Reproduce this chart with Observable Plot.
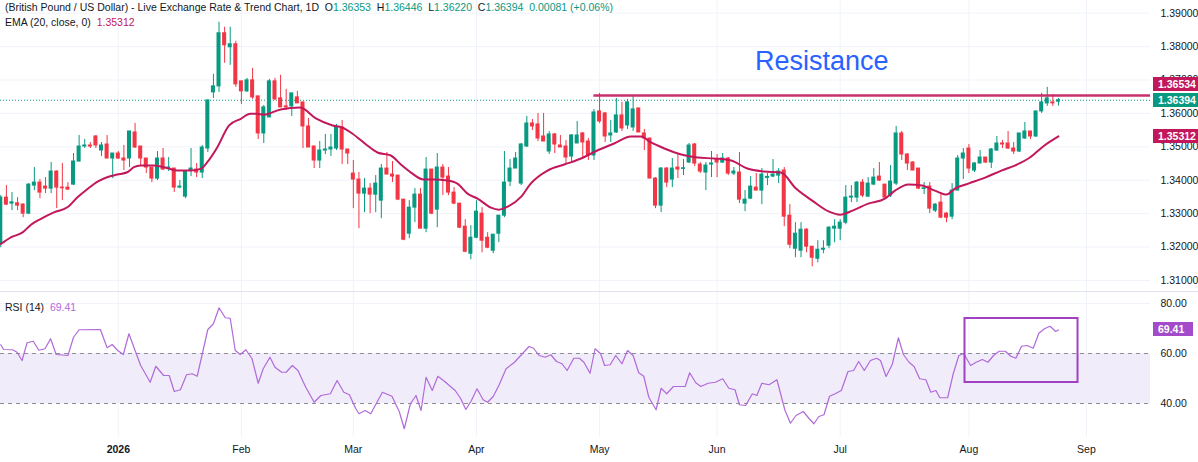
<!DOCTYPE html>
<html><head><meta charset="utf-8">
<script src="https://cdn.jsdelivr.net/npm/d3@7"></script>
<script src="https://cdn.jsdelivr.net/npm/@observablehq/plot@0.6"></script>
<style>
html,body{margin:0;padding:0;background:#fff;}
#wrap{position:relative;width:1198px;height:462px;overflow:hidden;font-family:"Liberation Sans",Arial,sans-serif;color:#131722;}
.pane{position:absolute;left:0;width:1198px;}
.hdr{position:absolute;left:5px;font-size:10.5px;line-height:14px;white-space:pre;color:#131722;}
.g{color:#089981}
.tag{position:absolute;left:1153px;height:14px;color:#fff;font-size:10.5px;line-height:14px;padding-left:5px;box-sizing:border-box;font-weight:bold;}
</style></head><body><div id="wrap"></div>
<script>
// ---- axis ticks ----
const tickIndex = [21, 43, 63, 85, 107, 128, 150, 173, 194];
const tickLabels = ["2026", "Feb", "Mar", "Apr", "May", "Jun", "Jul", "Aug", "Sep"];
const priceTicks = [1.31, 1.32, 1.33, 1.34, 1.35, 1.36, 1.37, 1.38, 1.39];
const rsiTicks = [80, 60, 40];
const rsiBand = [40, 60];

// ---- daily OHLC (GBP/USD), one per trading day ----
const openP = [
1.3210,1.3348,1.3330,1.3331,1.3327,1.3300,1.3384,1.3393,1.3381,1.3375,
1.3426,1.3378,1.3378,1.3387,1.3456,1.3501,1.3504,1.3531,1.3489,1.3507,
1.3465,1.3480,1.3465,1.3465,1.3543,1.3501,1.3465,1.3438,1.3405,1.3465,
1.3435,1.3435,1.3378,1.3351,1.3429,1.3432,1.3423,1.3495,1.3663,1.3681,
1.3840,1.3798,1.3807,1.3696,1.3666,1.3699,1.3651,1.3540,1.3588,1.3696,
1.3645,1.3621,1.3621,1.3648,1.3633,1.3561,1.3501,1.3459,1.3489,1.3492,
1.3495,1.3558,1.3492,1.3420,1.3402,1.3360,1.3375,1.3357,1.3339,1.3435,
1.3417,1.3414,1.3342,1.3240,1.3318,1.3357,1.3255,1.3432,1.3312,1.3438,
1.3411,1.3363,1.3330,1.3261,1.3180,1.3228,1.3300,1.3228,1.3189,1.3240,
1.3294,1.3396,1.3435,1.3390,1.3501,1.3570,1.3567,1.3531,1.3486,1.3537,
1.3504,1.3501,1.3471,1.3510,1.3540,1.3516,1.3474,1.3606,1.3600,1.3534,
1.3543,1.3594,1.3564,1.3558,1.3615,1.3540,1.3525,1.3405,1.3324,1.3435,
1.3402,1.3438,1.3434,1.3453,1.3507,1.3447,1.3423,1.3447,1.3462,1.3453,
1.3465,1.3420,1.3423,1.3330,1.3345,1.3378,1.3369,1.3407,1.3411,1.3414,
1.3429,1.3294,1.3195,1.3189,1.3252,1.3201,1.3165,1.3192,1.3204,1.3255,
1.3255,1.3273,1.3348,1.3348,1.3393,1.3351,1.3387,1.3411,1.3387,1.3354,
1.3390,1.3540,1.3477,1.3453,1.3435,1.3374,1.3381,1.3309,1.3333,1.3300,
1.3291,1.3369,1.3465,1.3495,1.3429,1.3450,1.3468,1.3453,1.3489,1.3510,
1.3510,1.3495,1.3486,1.3525,1.3546,1.3531,1.3606,1.3630,1.3633,1.36353];
const highP = [
1.3354,1.3384,1.3363,1.3348,1.3330,1.3390,1.3438,1.3402,1.3408,1.3453,
1.3428,1.3450,1.3393,1.3480,1.3534,1.3522,1.3513,1.3534,1.3513,1.3534,
1.3480,1.3486,1.3504,1.3546,1.3570,1.3501,1.3465,1.3438,1.3486,1.3495,
1.3468,1.3435,1.3399,1.3426,1.3495,1.3450,1.3504,1.3639,1.3717,1.3873,
1.3858,1.3858,1.3816,1.3696,1.3705,1.3735,1.3651,1.3624,1.3702,1.3705,
1.3714,1.3672,1.3660,1.3666,1.3633,1.3585,1.3501,1.3516,1.3537,1.3537,
1.3567,1.3579,1.3492,1.3459,1.3423,1.3405,1.3390,1.3414,1.3447,1.3483,
1.3456,1.3414,1.3342,1.3339,1.3375,1.3375,1.3468,1.3432,1.3480,1.3447,
1.3438,1.3378,1.3330,1.3282,1.3264,1.3339,1.3318,1.3243,1.3237,1.3294,
1.3486,1.3462,1.3483,1.3510,1.3591,1.3582,1.3600,1.3600,1.3546,1.3540,
1.3534,1.3519,1.3537,1.3576,1.3543,1.3525,1.3612,1.3660,1.3603,1.3579,
1.3645,1.3633,1.3642,1.3654,1.3615,1.3552,1.3525,1.3408,1.3438,1.3438,
1.3465,1.3477,1.3462,1.3510,1.3510,1.3453,1.3453,1.3486,1.3477,1.3480,
1.3468,1.3438,1.3483,1.3369,1.3411,1.3420,1.3435,1.3420,1.3462,1.3435,
1.3438,1.3327,1.3273,1.3273,1.3255,1.3201,1.3219,1.3219,1.3261,1.3282,
1.3282,1.3384,1.3384,1.3396,1.3402,1.3408,1.3435,1.3453,1.3387,1.3444,
1.3561,1.3546,1.3480,1.3456,1.3435,1.3393,1.3393,1.3330,1.3363,1.3303,
1.3390,1.3474,1.3495,1.3507,1.3453,1.3489,1.3468,1.3495,1.3531,1.3519,
1.3546,1.3513,1.3540,1.3573,1.3546,1.3606,1.3660,1.3678,1.3657,1.36446];
const lowP = [
1.3198,1.3324,1.3309,1.3309,1.3288,1.3297,1.3369,1.3345,1.3360,1.3360,
1.3315,1.3339,1.3369,1.3384,1.3455,1.3495,1.3495,1.3495,1.3471,1.3465,
1.3405,1.3462,1.3429,1.3438,1.3495,1.3444,1.3420,1.3393,1.3399,1.3429,
1.3426,1.3363,1.3375,1.3345,1.3411,1.3408,1.3405,1.3483,1.3645,1.3663,
1.3750,1.3744,1.3678,1.3627,1.3663,1.3642,1.3522,1.3510,1.3588,1.3639,
1.3618,1.3609,1.3591,1.3630,1.3495,1.3498,1.3435,1.3435,1.3477,1.3471,
1.3489,1.3447,1.3447,1.3315,1.3255,1.3303,1.3300,1.3303,1.3285,1.3417,
1.3393,1.3339,1.3219,1.3225,1.3273,1.3255,1.3243,1.3297,1.3258,1.3354,
1.3354,1.3327,1.3255,1.3183,1.3162,1.3225,1.3183,1.3195,1.3180,1.3213,
1.3288,1.3381,1.3435,1.3384,1.3498,1.3549,1.3516,1.3516,1.3477,1.3480,
1.3498,1.3450,1.3456,1.3510,1.3468,1.3459,1.3459,1.3570,1.3513,1.3513,
1.3540,1.3546,1.3552,1.3546,1.3543,1.3489,1.3405,1.3315,1.3303,1.3378,
1.3378,1.3405,1.3414,1.3450,1.3441,1.3420,1.3369,1.3408,1.3408,1.3450,
1.3414,1.3414,1.3330,1.3306,1.3342,1.3369,1.3327,1.3384,1.3408,1.3390,
1.3261,1.3195,1.3168,1.3168,1.3183,1.3141,1.3153,1.3180,1.3195,1.3213,
1.3219,1.3267,1.3333,1.3333,1.3348,1.3348,1.3384,1.3396,1.3345,1.3348,
1.3384,1.3459,1.3429,1.3429,1.3372,1.3357,1.3300,1.3303,1.3285,1.3273,
1.3282,1.3369,1.3402,1.3420,1.3423,1.3450,1.3450,1.3435,1.3486,1.3495,
1.3492,1.3477,1.3483,1.3522,1.3522,1.3528,1.3600,1.3621,1.3621,1.36220];
const closeP = [
1.3348,1.3327,1.3334,1.3324,1.3300,1.3387,1.3393,1.3363,1.3375,1.3426,
1.3378,1.3376,1.3372,1.3456,1.3501,1.3504,1.3501,1.3504,1.3504,1.3465,
1.3480,1.3465,1.3459,1.3546,1.3498,1.3465,1.3438,1.3405,1.3465,1.3432,
1.3438,1.3378,1.3381,1.3426,1.3435,1.3423,1.3498,1.3639,1.3681,1.3840,
1.3804,1.3807,1.3687,1.3666,1.3699,1.3648,1.3540,1.3618,1.3696,1.3642,
1.3618,1.3618,1.3660,1.3630,1.3561,1.3498,1.3459,1.3489,1.3492,1.3498,
1.3558,1.3492,1.3480,1.3402,1.3360,1.3375,1.3357,1.3390,1.3435,1.3417,
1.3411,1.3342,1.3222,1.3318,1.3357,1.3255,1.3432,1.3300,1.3438,1.3408,
1.3363,1.3330,1.3258,1.3186,1.3228,1.3306,1.3219,1.3198,1.3237,1.3294,
1.3393,1.3435,1.3465,1.3507,1.3570,1.3561,1.3525,1.3516,1.3537,1.3507,
1.3498,1.3468,1.3534,1.3534,1.3513,1.3474,1.3603,1.3576,1.3531,1.3540,
1.3594,1.3555,1.3633,1.3612,1.3543,1.3525,1.3405,1.3324,1.3435,1.3393,
1.3435,1.3432,1.3436,1.3504,1.3450,1.3426,1.3444,1.3450,1.3453,1.3465,
1.3420,1.3426,1.3342,1.3342,1.3381,1.3369,1.3417,1.3410,1.3417,1.3426,
1.3291,1.3207,1.3240,1.3252,1.3201,1.3168,1.3192,1.3195,1.3258,1.3261,
1.3273,1.3348,1.3351,1.3393,1.3354,1.3390,1.3408,1.3399,1.3348,1.3396,
1.3540,1.3477,1.3450,1.3429,1.3375,1.3376,1.3315,1.3327,1.3288,1.3288,
1.3369,1.3465,1.3480,1.3435,1.3450,1.3468,1.3453,1.3492,1.3510,1.3507,
1.3495,1.3486,1.3540,1.3546,1.3531,1.3606,1.3633,1.3645,1.3630,1.36394];

// ---- EMA(20) (trading-day index, value) ----
const emaIndex = [0,1.8,3.9,5.4,7.1,9.5,11.9,13.7,15.5,17.3,19,20.8,22.6,23.8,25,27.4,29.8,31.5,33.9,35.7,36.9,38.7,40.8,42.9,44.6,45.8,47,50,53.5,56.3,59.3,61,62.8,65.5,67.3,69.7,71.5,73.3,75.6,77.4,79.8,81.6,83.4,85.2,87.6,89,90.6,93,94.7,97.7,100.7,103.7,106.6,109.6,112.6,114.4,116.2,118.6,121.6,124.5,127.5,130.5,133.4,136.4,139.4,142.1,145,148,150,152.2,155,158,159.8,162.2,164.6,166.9,169,170.5,172.9,175.9,178.8,181.2,183.9,186.5,189];
const emaValue = [1.3209,1.3229,1.3244,1.3267,1.3284,1.3304,1.3319,1.3349,1.3374,1.3396,1.3409,1.3417,1.3424,1.3439,1.3444,1.3444,1.3436,1.3429,1.3429,1.3434,1.3454,1.3499,1.3564,1.3584,1.3599,1.3599,1.3596,1.3612,1.3618,1.3585,1.3564,1.3558,1.3540,1.3504,1.3483,1.3474,1.3447,1.3423,1.3402,1.3402,1.3399,1.3390,1.3360,1.3345,1.3318,1.3312,1.3321,1.3351,1.3390,1.3429,1.3447,1.3465,1.3489,1.3510,1.3531,1.3531,1.3513,1.3495,1.3477,1.3468,1.3465,1.3459,1.3435,1.3426,1.3423,1.3375,1.3339,1.3306,1.3297,1.3309,1.3330,1.3345,1.3369,1.3387,1.3384,1.3369,1.3357,1.3375,1.3390,1.3408,1.3429,1.3444,1.3468,1.3504,1.35312];

// ---- RSI(14) ----
const rsiIndex = [0,0.5,2.1,2.9,3.8,4.7,5.8,6.8,7.9,8.9,9.9,12,13,14,17.8,19,19.9,20.9,21.9,22.9,24,25,26.7,27.7,29.1,30.1,31,32.1,33.2,34.2,35.1,37,38,39,40.1,41,41.9,42.8,43.8,44.9,46,46.9,48.1,49,50.2,51,52.1,53.1,54.5,56,57.2,58.9,60.1,61.3,62.3,63.4,64,65.1,66.1,68.2,69.9,71.2,72.1,73.2,74.2,75.1,76,77.1,78.1,79.1,81.2,82.2,83.1,84.1,85.1,86.2,87,88,89,90.3,91.8,93.2,94.4,95.2,96.2,97.3,98.3,99.3,100.3,101.2,102.4,103.4,104.2,105.3,106.2,
107.2,107.9,108.9,109.9,111,112,113,114,114.9,115.8,117.1,118,119,120.2,121.6,122.3,123.1,124.2,125.1,126.4,127.7,129,130.1,131.2,132,133.1,134.3,135.1,136,137.3,138.7,140.1,141.1,142.1,143.4,144.4,145.3,146.2,147.1,148.1,149.1,150.2,151.4,152.4,153.3,154.3,155.4,156.5,157.2,158.2,159.3,160.4,161.3,162.3,163.2,164.2,165.3,166.2,167.1,167.8,169.2,170.2,171.2,172.1,173.3,174.3,175.4,176.4,177.4,178.4,179.5,180.5,181.4,182.4,183.4,184.5,185.5,186.5,187.5,188.5,189];
const rsiValue = [63.5,61.6,61.5,60.5,57.2,64.3,64.9,61.3,61.9,65.9,59.6,59.2,66.5,69.5,69.6,62.3,63.6,61.2,59.6,67.9,61.2,55.2,48.5,54.9,51.2,51.2,44.8,45.5,51.5,51.9,50.9,69.6,71.9,78.3,74.3,74.1,61.2,59.6,61.5,57.9,48.1,53.9,58.5,54.5,52.5,52.5,55.2,53.2,46.5,40.5,43.2,43.9,49.2,44.5,43.5,38.1,35.9,37.2,35.9,44.5,42.9,36.8,29.9,39.9,43.2,37.2,50.5,45.2,50.9,49.2,45.2,41.9,37.6,41.2,45.9,41.5,40.5,42.8,47.2,53.9,56.5,59.9,62.8,62.1,59.2,58.5,59.5,56.8,55.9,53.2,58.1,58.1,56.5,52.1,61.9,
59.9,55.2,55.5,59.2,55.9,61.2,59.2,52.3,50.9,42.5,37.5,46.1,43.9,46.8,46.8,46.8,52.3,48.3,46.8,48.1,48.5,49.9,46.1,45.5,39.5,39.2,43.9,43.2,48.1,47.5,49.5,37.5,32.1,35.2,36.8,34.1,31.9,34.8,35.5,42.9,43.9,45.2,52.8,53.2,56.8,53.2,57.2,58.1,57.2,50.8,55.6,66.3,59.6,56.5,54.8,49.9,49.5,44.5,45.2,42.3,42.3,51.9,59.2,59.9,55.2,56.5,57.6,56.5,59.2,60.9,60.9,58.9,58.1,62.9,63.2,62.1,68.1,69.9,70.9,68.8,69.41];

// ---- annotations ----
const resistanceLevel = 1.36534;
const resistanceFromIndex = 106;
const resistanceText = {label: "Resistance", k: 146.7, v: 1.3755};
const rsiBox = {k1: 172.3, k2: 192.5, v1: 48.4, v2: 74};
const lastEma = 1.35312, lastRsi = 69.41;

// ---- build ----
const FONT = '"Liberation Sans", Arial, sans-serif';
const GRID = "#f0f3fa";
const UP = "#089981", DOWN = "#f23645", EMA_C = "#c2185b", RSI_C = "#b06ad9";
const xDomain = [-0.05, 205.45];
const candles = closeP.map((c, i) => ({k: i, o: openP[i], h: highP[i], l: lowP[i], c}));
const last = candles[candles.length - 1];
const colOf = d => d.c >= d.o ? UP : DOWN;
const ema = emaIndex.map((k, i) => ({k, v: emaValue[i]}));
const rsi = rsiIndex.map((k, i) => ({k, v: rsiValue[i]}));
const monthTicks = tickIndex.map((k, i) => ({k, label: tickLabels[i]}));

const wrap = document.getElementById("wrap");

const pricePlot = Plot.plot({
  width: 1198, height: 291,
  marginLeft: 0, marginRight: 48, marginTop: 0, marginBottom: 0,
  x: {domain: xDomain, axis: null},
  y: {domain: [1.3067, 1.3938], axis: null},
  color: {type: "identity"},
  style: {fontFamily: FONT, fontSize: "10.5px", color: "#131722", background: "transparent", overflow: "visible"},
  marks: [
    Plot.ruleY(priceTicks, {stroke: GRID}),
    Plot.ruleX(tickIndex, {stroke: GRID}),
    Plot.ruleY([last.c], {stroke: UP, strokeDasharray: "1,2", strokeWidth: 1}),
    Plot.ruleX(candles, {x: "k", y1: "l", y2: "h", stroke: colOf, strokeWidth: 1}),
    Plot.rect(candles, {x1: d => d.k - 0.36, x2: d => d.k + 0.36, y1: "o", y2: "c", fill: colOf, insetTop: -0.5, insetBottom: -0.5}),
    Plot.ruleY([resistanceLevel], {x1: () => resistanceFromIndex, x2: () => xDomain[1], stroke: "#c9306b", strokeWidth: 2.5}),
    Plot.line(ema, {x: "k", y: "v", stroke: EMA_C, strokeWidth: 2, curve: "monotone-x"}),
    Plot.text([resistanceText], {x: "k", y: "v", text: "label", fill: "#2962ff", fontSize: 27}),
    Plot.axisY(priceTicks, {anchor: "right", tickSize: 0, tickPadding: 10, tickFormat: d => d.toFixed(5)})
  ]
});
const pPane = document.createElement("div");
pPane.className = "pane"; pPane.style.top = "0px"; pPane.style.height = "291px";
pPane.appendChild(pricePlot);
wrap.appendChild(pPane);

const rsiPlot = Plot.plot({
  width: 1198, height: 170,
  marginLeft: 0, marginRight: 48, marginTop: 0, marginBottom: 25,
  x: {domain: xDomain, axis: null},
  y: {domain: [26.4, 84.4], axis: null},
  style: {fontFamily: FONT, fontSize: "10.5px", color: "#131722", background: "transparent", overflow: "visible"},
  marks: [
    Plot.ruleX(tickIndex, {stroke: GRID}),
    Plot.ruleY([80], {stroke: GRID}),
    Plot.rect([rsiBand], {x1: () => xDomain[0], x2: () => xDomain[1], y1: d => d[0], y2: d => d[1], fill: "#f1ecf9"}),
    Plot.ruleY(rsiBand, {stroke: "#8a8d96", strokeDasharray: "4,4"}),
    Plot.line(rsi, {x: "k", y: "v", stroke: RSI_C, strokeWidth: 1.2}),
    Plot.rect([rsiBox], {x1: "k1", x2: "k2", y1: "v1", y2: "v2", fill: "none", stroke: "#a040c4", strokeWidth: 2}),
    Plot.axisY(rsiTicks, {anchor: "right", tickSize: 0, tickPadding: 10, tickFormat: d => d.toFixed(2)}),
    Plot.text(monthTicks.filter(d => d.label !== "2026"), {x: "k", text: "label", frameAnchor: "bottom", dy: 15, fill: "#131722"}),
    Plot.text(monthTicks.filter(d => d.label === "2026"), {x: "k", text: "label", frameAnchor: "bottom", dy: 15, fill: "#131722", fontWeight: "bold"})
  ]
});
const rPane = document.createElement("div");
rPane.className = "pane"; rPane.style.top = "291px"; rPane.style.height = "171px";
rPane.style.borderTop = "1px solid #e0e3eb"; rPane.style.boxSizing = "border-box";
rPane.appendChild(rsiPlot);
wrap.appendChild(rPane);

// ---- header texts ----
function addDiv(cls, top, html, extra) {
  const d = document.createElement("div");
  d.className = cls; d.style.top = top + "px"; d.innerHTML = html;
  if (extra) Object.assign(d.style, extra);
  wrap.appendChild(d); return d;
}
const f5 = v => v.toFixed(5);
addDiv("hdr", 0,
  `(British Pound / US Dollar) - Live Exchange Rate &amp; Trend Chart, 1D  O<span class="g">${f5(last.o)}</span>  H<span class="g">${f5(last.h)}</span>  L<span class="g">${f5(last.l)}</span>  C<span class="g">${f5(last.c)}</span>  <span class="g">0.00081 (+0.06%)</span>`);
addDiv("hdr", 15, `EMA (20, close, 0)  <span style="color:${EMA_C}">${f5(lastEma)}</span>`);
addDiv("hdr", 300, `RSI (14)  <span style="color:${RSI_C}">${lastRsi.toFixed(2)}</span>`);

// ---- right-axis value tags ----
const yP = v => pricePlot.scale("y").apply(v);
const yR = v => rsiPlot.scale("y").apply(v) + 292;
const closeY = yP(last.c);
addDiv("tag", Math.round(closeY - 7), f5(last.c), {background: UP, width: "45px"});
addDiv("tag", Math.round(closeY - 7 - 16), f5(resistanceLevel), {background: EMA_C, width: "45px"});
addDiv("tag", Math.round(yP(lastEma) - 7), f5(lastEma), {background: EMA_C, width: "45px"});
addDiv("tag", Math.round(yR(lastRsi) - 7), lastRsi.toFixed(2), {background: "#a34bcb", width: "40px"});
</script></body></html>
